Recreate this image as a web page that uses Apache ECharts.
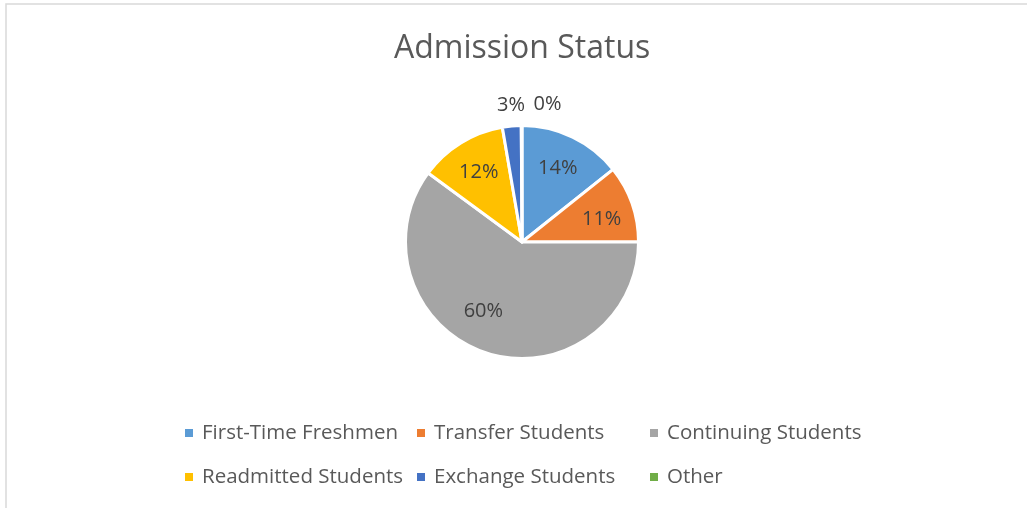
<!DOCTYPE html>
<html><head><meta charset="utf-8">
<script src="https://cdn.jsdelivr.net/npm/echarts@6/dist/echarts.min.js"></script>
<style>html,body{margin:0;padding:0;background:#fff}#c{width:1027px;height:508px}</style>
</head><body><div id="c"></div>
<script>
const title = 'Admission Status';
const categories = ['First-Time Freshmen', 'Transfer Students', 'Continuing Students', 'Readmitted Students', 'Exchange Students', 'Other'];
const values = [14.3, 10.7, 60.1, 12.2, 2.6, 0.1];
const colors = ['#5B9BD5', '#ED7D31', '#A5A5A5', '#FFC000', '#4472C4', '#70AD47'];
const legendColumns = [[0, 3], [1, 4], [2, 5]];

const FONT = '"Open Sans", sans-serif';
const total = values.reduce((a, b) => a + b, 0);
const isSmall = v => v / total * 100 < 5;
const fmt = p => Math.round(p.percent) + '%';
const labelShift = {2: {dx: -13, dy: -9}, 1: {dx: 2, dy: 4}, 4: {dx: 15}, 5: {align: 'left', dx: 12}};
const center = [522, 242];
const R = 116.5;

const chart = echarts.init(document.getElementById('c'), null, {renderer: 'canvas'});
const labelStyle = {color: '#404040', fontSize: 20, fontFamily: FONT};

const mainData = categories.map((n, i) => ({
  name: n, value: values[i],
  label: {show: isSmall(values[i])}
}));
const overlayData = categories.map((n, i) => ({
  name: n, value: values[i],
  label: {show: !isSmall(values[i])}
}));

const legendX = [185, 417, 650];
const legends = legendColumns.map((col, k) => ({
  orient: 'vertical', left: legendX[k], top: 422, padding: 0,
  data: col.map(i => categories[i]),
  icon: 'rect', itemWidth: 8, itemHeight: 8, itemGap: 22,
  itemStyle: {borderWidth: 0},
  selectedMode: false,
  textStyle: {color: '#595959', fontSize: 20.5, fontFamily: FONT, lineHeight: 22, padding: [0, 0, 0, 4]}
}));

chart.setOption({
  animation: false,
  color: colors,
  title: {
    text: title, left: 389, top: 28,
    textStyle: {color: '#595959', fontSize: 32, fontWeight: 'normal', fontFamily: FONT}
  },
  legend: legends,
  graphic: [{
    type: 'rect', silent: true,
    shape: {x: 6, y: 4, width: 1100, height: 600},
    style: {fill: null, stroke: '#D9D9D9', lineWidth: 1.5}
  }],
  series: [{
    type: 'pie', center: center, radius: R, startAngle: 90, clockwise: true,
    avoidLabelOverlap: false,
    itemStyle: {borderColor: '#fff', borderWidth: 3},
    label: Object.assign({position: 'outside', formatter: fmt, distanceToLabelLine: 0}, labelStyle),
    labelLine: {show: false, length: 21, length2: 0},
    labelLayout: p => labelShift[p.dataIndex] || {},
    data: mainData
  }, {
    type: 'pie', center: center, radius: [42, R], startAngle: 90, clockwise: true,
    silent: true, avoidLabelOverlap: false,
    itemStyle: {color: 'rgba(0,0,0,0)', borderWidth: 0},
    label: Object.assign({position: 'inside', formatter: fmt}, labelStyle),
    labelLine: {show: false},
    labelLayout: p => labelShift[p.dataIndex] || {},
    data: overlayData
  }]
});
</script></body></html>
